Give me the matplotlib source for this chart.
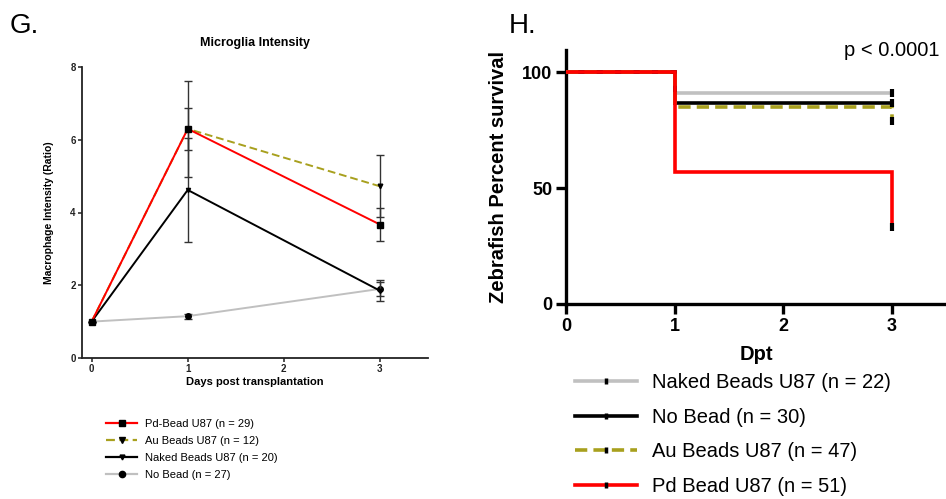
import matplotlib
matplotlib.use("Agg")
import matplotlib.pyplot as plt
from matplotlib.lines import Line2D

plt.rcParams['font.family'] = ['Liberation Sans', 'DejaVu Sans']

# ---------------- Panel G data ----------------
days = [0, 1, 3]
g_labels = ["Pd-Bead U87 (n = 29)", "Au Beads U87 (n = 12)",
            "Naked Beads U87 (n = 20)", "No Bead (n = 27)"]
pd_vals = [1.0, 6.30, 3.67]
pd_err = [0.0, 0.57, 0.46]
au_vals = [1.0, 6.30, 4.72]
au_err = [0.0, 1.32, 0.85]
naked_vals = [1.0, 4.62, 1.85]
naked_err = [0.0, 1.43, 0.29]
nobead_vals = [1.0, 1.15, 1.90]
nobead_err = [0.0, 0.07, 0.19]

# ---------------- Panel H data ----------------
h_times = [0, 1, 3]
h_labels = ["Naked Beads U87 (n = 22)", "No Bead (n = 30)",
            "Au Beads U87 (n = 47)", "Pd Bead U87 (n = 51)"]
h_naked = [100, 90.9, 90.9]
h_nobead = [100, 86.7, 86.7]
h_au = [100, 85.1, 78.7]
h_pd = [100, 56.9, 33.3]

RED = '#FF0000'
OLIVE = '#A8A01E'
GRAY = '#C0C0C0'
BLACK = '#000000'

fig = plt.figure(figsize=(9.46, 4.99), dpi=100)

# ================= Panel G =================
axg = fig.add_axes([82/946, 1-358/499, (428-82)/946, (358-67)/499])
series_g = [
    (pd_vals, pd_err, RED, '-', 's', 3.8),
    (au_vals, au_err, OLIVE, (0, (4, 2)), 'v', 3.3),
    (naked_vals, naked_err, BLACK, '-', 'v', 3.0),
    (nobead_vals, nobead_err, GRAY, '-', 'o', 4.0),
]
zorders = [4, 3, 3.5, 2]
handles_g = []
for (vals, err, col, ls, mk, ms), lab, z in zip(series_g, g_labels, zorders):
    axg.errorbar(days, vals, yerr=err, color=col, ls=ls, lw=1.4,
                 marker=mk, ms=ms, mfc='black', mec='black',
                 ecolor='#333333', elinewidth=1.0, capsize=3, capthick=1.0,
                 zorder=z)
    handles_g.append(Line2D([], [], color=col, ls=ls, lw=1.6, marker=mk,
                            ms=ms + 0.5, mfc='black', mec='black'))

axg.set_xlim(-0.1, 3.5)
axg.set_ylim(0, 8)
axg.set_xticks([0, 1, 2, 3])
axg.set_yticks([0, 2, 4, 6, 8])
for s in ['top', 'right']:
    axg.spines[s].set_visible(False)
for s in ['left', 'bottom']:
    axg.spines[s].set_linewidth(1.3)
    axg.spines[s].set_color('#222222')
axg.tick_params(axis='both', length=3, width=1.1, labelsize=7, pad=1.5,
                color='#222222')
for t in axg.get_xticklabels() + axg.get_yticklabels():
    t.set_fontweight('bold')
    t.set_color('#222222')
axg.set_title("Microglia Intensity", fontsize=9, fontweight='bold', pad=15)
axg.set_xlabel("Days post transplantation", fontsize=8, fontweight='bold',
               labelpad=2)
axg.set_ylabel("Macrophage Intensity (Ratio)", fontsize=7.5,
               fontweight='bold', labelpad=12)

fig.legend(handles_g, g_labels, loc='upper left',
           bbox_to_anchor=(106/946, 1-419/499), frameon=False,
           fontsize=8, handlelength=2.8, handletextpad=0.7,
           labelspacing=0.62, borderpad=0, borderaxespad=0, numpoints=1)

fig.text(10/946, 1-13/499, "G.", fontsize=20, va='top', ha='left')

# ================= Panel H =================
axh = fig.add_axes([566/946, 1-304/499, (946-566)/946, (304-50)/499])
series_h = [
    (h_naked, GRAY, '-', 2),
    (h_nobead, BLACK, '-', 3),
    (h_au, OLIVE, (0, (3.4, 1.7)), 4),
    (h_pd, RED, '-', 5),
]
handles_h = []
for (vals, col, ls, z), lab in zip(series_h, h_labels):
    axh.step(h_times, vals, where='post', color=col, ls=ls, lw=2.6,
             zorder=z, solid_joinstyle='miter')
    axh.plot([h_times[-1]], [vals[-1]], ls='none', marker='|', ms=6,
             mew=3, color='black', zorder=6, clip_on=False)
    handles_h.append(Line2D([], [], color=col, ls=ls, lw=2.6, marker='|',
                            ms=5, mew=2.5, mec='black'))

axh.set_xlim(0, 3.5)
axh.set_ylim(0, 109.5)
axh.set_xticks([0, 1, 2, 3])
axh.set_yticks([0, 50, 100])
for s in ['top', 'right']:
    axh.spines[s].set_visible(False)
for s in ['left', 'bottom']:
    axh.spines[s].set_linewidth(2.4)
axh.tick_params(axis='both', length=7, width=2.4, labelsize=13, pad=3)
for t in axh.get_xticklabels() + axh.get_yticklabels():
    t.set_fontweight('bold')
axh.set_xlabel("Dpt", fontsize=14.5, fontweight='bold', labelpad=7)
axh.set_ylabel("Zebrafish Percent survival", fontsize=14.5,
               fontweight='bold', labelpad=10)

fig.text(939/946, 1-56/499, "p < 0.0001", fontsize=14.5, ha='right',
         va='baseline')
fig.text(509/946, 1-13/499, "H.", fontsize=20, va='top', ha='left')

fig.legend(handles_h, h_labels, loc='upper left',
           bbox_to_anchor=(575/946, 1-373/499), frameon=False,
           fontsize=14.5, handlelength=3.1, handletextpad=0.7,
           labelspacing=0.78, borderpad=0, borderaxespad=0, numpoints=1)

fig.savefig("out.png", dpi=100)
